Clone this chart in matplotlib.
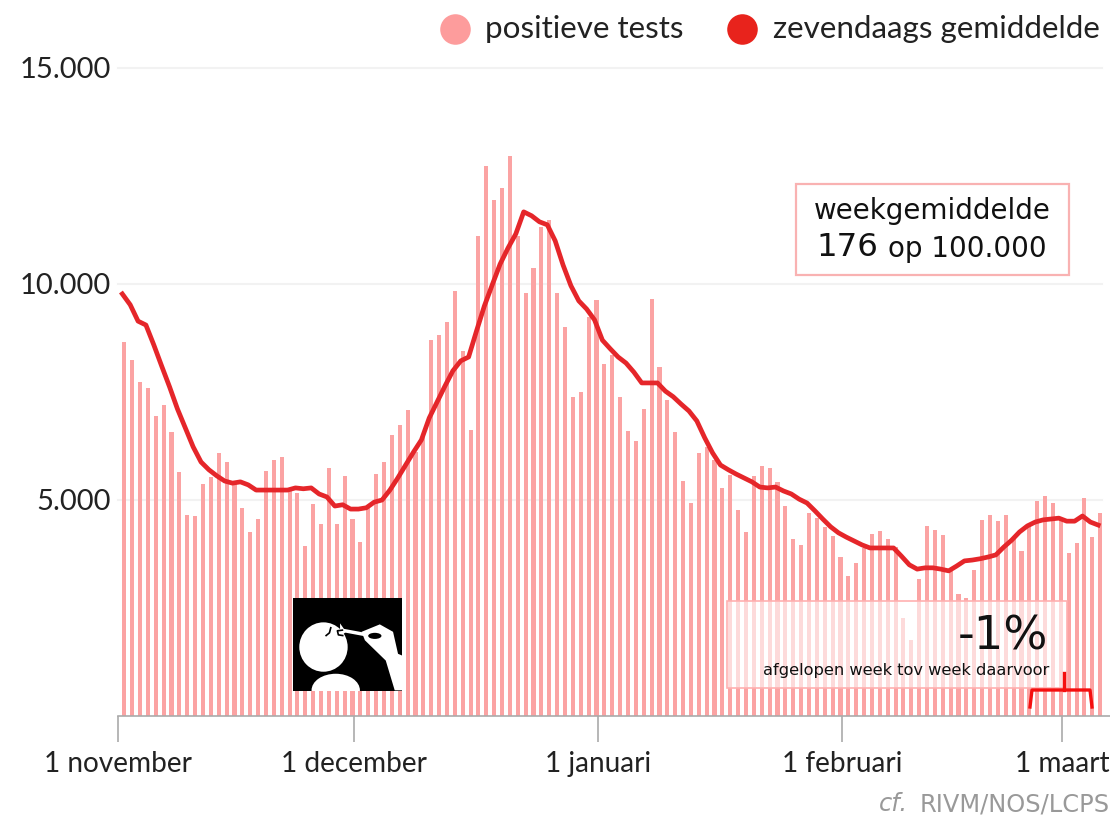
import numpy as np
import matplotlib
matplotlib.use("Agg")
import matplotlib.pyplot as plt
from matplotlib.lines import Line2D
from matplotlib.patches import Rectangle, Circle, Ellipse, Polygon

# Positieve tests per dag, 1 november t/m 5 maart
tests = [8660, 8240, 7730, 7590, 6940, 7200, 6570, 5650, 4650, 4630, 5370, 5530, 6090, 5880, 5390,
         4820, 4260, 4560, 5670, 5930, 6000, 5230, 5160, 3940, 4910, 4450, 5740, 4450, 5560, 4560,
         4030, 4820, 5600, 5880, 6510, 6740, 7090, 6110, 6460, 8700, 8820, 9120, 9840, 8450, 6620,
         11110, 12730, 11940, 12220, 12960, 11110, 9790, 10370, 11320, 11480, 9790, 9000, 7390, 7500, 9240,
         9630, 8150, 8360, 7390, 6600, 6370, 7110, 9650, 8080, 7320, 6580, 5440, 4930, 6090, 6230,
         5930, 5280, 5580, 4770, 4260, 5560, 5790, 5740, 5420, 4860, 4100, 3960, 4700, 4590, 4380,
         4170, 3680, 3240, 3540, 3890, 4220, 4280, 4100, 3910, 2270, 1760, 3170, 4400, 4310, 4190,
         3380, 2830, 2730, 3380, 4540, 4650, 4520, 4650, 4150, 3820, 4420, 4980, 5090, 4930, 4540,
         3770, 4010, 5050, 4150, 4700]

# Zevendaags gemiddelde
gemiddelde = [9770, 9520, 9140, 9050, 8590, 8100, 7620, 7110, 6670, 6230, 5880, 5700, 5560, 5440, 5390,
              5420, 5350, 5230, 5230, 5230, 5230, 5230, 5280, 5260, 5280, 5140, 5070, 4860, 4890, 4790,
              4790, 4820, 4950, 5000, 5230, 5510, 5810, 6110, 6390, 6900, 7270, 7640, 7990, 8220, 8310,
              8910, 9490, 9980, 10460, 10830, 11160, 11670, 11580, 11440, 11370, 11000, 10440, 9960, 9610, 9420,
              9170, 8700, 8500, 8310, 8170, 7960, 7710, 7710, 7710, 7520, 7390, 7220, 7060, 6830, 6440,
              6090, 5810, 5700, 5600, 5510, 5420, 5300, 5280, 5300, 5210, 5140, 5020, 4930, 4750, 4560,
              4380, 4240, 4140, 4050, 3960, 3890, 3890, 3890, 3890, 3700, 3500, 3400, 3430, 3430, 3400,
              3360, 3470, 3590, 3610, 3640, 3680, 3730, 3910, 4070, 4260, 4400, 4490, 4540, 4560, 4580,
              4510, 4510, 4630, 4490, 4420]

tick_days = [0, 30, 61, 92, 120]
tick_labels = ["1 november", "1 december", "1 januari", "1 februari", "1 maart"]
y_ticks = [5000, 10000, 15000]
y_labels = ["5.000", "10.000", "15.000"]

W, H = 1110, 816
BAR = "#fba3a3"
LIJN = "#e5262a"
LATO = "Lato"

plt.rcParams["font.family"] = [LATO, "DejaVu Sans"]


# figuur-pixels naar figuurcoordinaten
def fx(x):
    return x / W


def fy(y):
    return 1 - y / H


fig = plt.figure(figsize=(W / 100, H / 100), dpi=100, facecolor="white")
ax = fig.add_axes([fx(118), fy(716), fx(992), (716 - 68) / H])

days = np.arange(len(tests))
ax.bar(days + 0.8, tests, width=0.52, color=BAR, zorder=2)
ax.plot(days + 0.55, gemiddelde, color=LIJN, lw=3.4, solid_joinstyle="round", zorder=3)

ax.set_xlim(0, 992 / 7.87)
ax.set_ylim(0, 15000)
for s in ["top", "right", "left"]:
    ax.spines[s].set_visible(False)
ax.spines["bottom"].set_color("#aaaaaa")
ax.spines["bottom"].set_linewidth(1.2)
ax.set_xticks(tick_days)
ax.set_xticklabels(tick_labels, fontsize=20.2, color="#222222")
ax.tick_params(axis="x", length=19, width=1.2, color="#aaaaaa", pad=6)
ax.set_yticks(y_ticks)
ax.set_yticklabels(y_labels, fontsize=21, color="#222222")
ax.tick_params(axis="y", length=0, pad=5)
for v in y_ticks:
    ax.plot([0, 125], [v, v], color="#f2f2f2", lw=1.5, zorder=1, clip_on=False)

# legenda
fig.add_artist(Line2D([fx(455)], [fy(29)], marker="o", ms=22, color="#fd9c9c", mew=0))
fig.add_artist(Line2D([fx(742)], [fy(29)], marker="o", ms=22, color="#e8231c", mew=0))
fig.text(fx(485), fy(29), "positieve tests", fontsize=22.6, color="#222222", va="center")
fig.text(fx(773), fy(29), "zevendaags gemiddelde", fontsize=22.6, color="#222222", va="center")

# kader weekgemiddelde
fig.add_artist(Rectangle((fx(796), fy(275)), 273 / W, 91 / H, transform=fig.transFigure,
                         fc="white", ec="#f9b2b2", lw=1.6, zorder=4))
fig.text(fx(932), fy(211), "weekgemiddelde", family="DejaVu Sans", fontsize=20, color="#111111",
         ha="center", va="center", zorder=5)
fig.text(fx(816), fy(248), "176", family="DejaVu Sans", fontsize=23.4, color="#111111",
         ha="left", va="center", zorder=5)
fig.text(fx(888), fy(249), "op 100.000", family="DejaVu Sans", fontsize=20, color="#111111",
         ha="left", va="center", zorder=5)

# kader afgelopen week
fig.add_artist(Rectangle((fx(727), fy(688)), 340 / W, 87 / H, transform=fig.transFigure,
                         fc=(1, 1, 1, 0.6), ec="#ffb0b0", lw=1.2, zorder=4))
fig.text(fx(1048), fy(637), "-1%", family="DejaVu Sans", fontsize=33.5, color="#111111",
         ha="right", va="center", zorder=5)
fig.text(fx(1049), fy(671), "afgelopen week tov week daarvoor", family="DejaVu Sans", fontsize=11.7,
         color="#111111", ha="right", va="center", zorder=5)

# accolade laatste week
fig.add_artist(Line2D([fx(1030), fx(1032), fx(1090), fx(1092)], [fy(707), fy(690), fy(690), fy(707)],
                      color="#f50f0f", lw=2.4, zorder=5))
fig.add_artist(Line2D([fx(1064), fx(1064)], [fy(673), fy(690)], color="#f50f0f", lw=2.4, zorder=5))

# bron
fig.text(fx(1110), fy(804), "RIVM/NOS/LCPS", family="DejaVu Sans", fontsize=17.4, color="#999999",
         ha="right", va="center")
fig.text(fx(908), fy(804), "cf.", family="DejaVu Sans", style="italic", fontsize=17.4, color="#999999",
         ha="right", va="center")

# pictogram neusswab
icon = fig.add_axes([fx(293), fy(691), 109 / W, 93 / H], zorder=6)
icon.set_facecolor("black")
icon.set_xlim(38, 367)
icon.set_ylim(300, 25)
icon.set_xticks([])
icon.set_yticks([])
for s in icon.spines.values():
    s.set_visible(False)
icon.add_patch(Circle((130, 170), 73, fc="white", ec="none"))
icon.add_patch(Ellipse((167, 298), 146, 98, fc="white", ec="none"))
icon.add_patch(Polygon([(180, 100), (198, 125), (180, 140)], fc="white", ec="none"))
icon.add_patch(Polygon([(245, 125), (300, 103), (340, 125), (355, 190), (367, 195), (367, 298), (345, 298),
                        (318, 210), (255, 150)], fc="white", ec="none"))
icon.add_patch(Ellipse((285, 137), 40, 18, fc="black", ec="none"))
icon.plot([195, 250], [122, 132], color="white", lw=2.5)
icon.plot([152, 148, 138], [113, 128, 136], color="black", lw=1.2)
icon.plot([187, 172, 175, 188], [120, 122, 134, 136], color="black", lw=1.2)

fig.savefig("out.png", dpi=100)
